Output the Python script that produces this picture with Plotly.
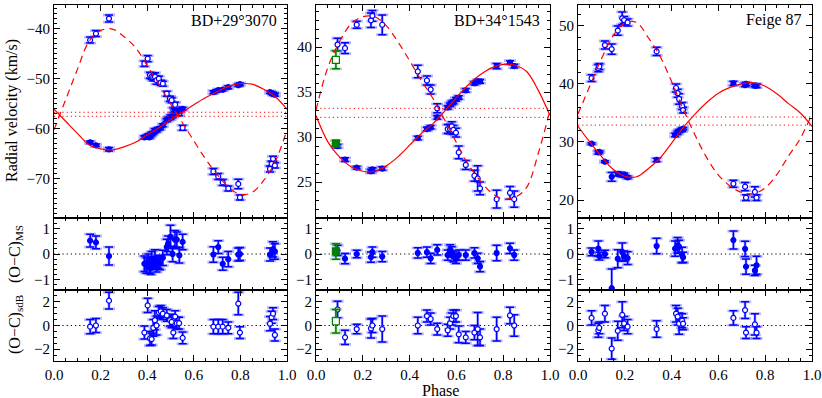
import plotly.graph_objects as go

W, H = 822, 398
FONT = "Liberation Serif, DejaVu Serif, serif"
BLUE = "#0000ff"
HALO = "rgba(90,90,255,0.45)"
GREEN = "#008000"
RED = "#ff0000"

# ---------------- BD+29 3070 ----------------
bd29_sdb_phase = [0.155, 0.180, 0.236, 0.388, 0.402, 0.412, 0.419, 0.426, 0.433, 0.440, 0.450,
                  0.458, 0.467, 0.484, 0.498, 0.505, 0.512, 0.520, 0.527, 0.537, 0.552, 0.684,
                  0.705, 0.724, 0.748, 0.791, 0.798, 0.927, 0.934, 0.940, 0.948]
bd29_sdb_rv = [-42.3, -41.0, -38.0, -47.0, -46.0, -49.3, -49.6, -49.7, -49.6, -50.3, -50.0,
               -50.8, -51.0, -53.0, -54.0, -54.3, -56.3, -55.2, -56.3, -56.9, -59.8, -68.5,
               -69.5, -70.7, -71.9, -71.0, -73.7, -68.0, -67.0, -66.0, -67.3]
bd29_sdb_res = [-0.1, 0.0, 2.1, -0.6, 1.7, -1.1, -1.15, -0.2, 0.45, 0.0, 1.1,
                1.2, 1.0, 0.85, 0.45, 0.3, -0.6, 0.75, 0.2, 0.2, -1.05, -0.1,
                -0.1, -0.1, -0.2, 1.85, -0.6, 0.15, 0.7, 1.0, -0.8]
bd29_sdb_err = [0.6, 0.6, 0.7, 0.55, 0.6, 0.6, 0.5, 0.7, 0.8, 0.8, 0.5,
                0.5, 0.5, 0.5, 0.5, 0.5, 0.5, 0.5, 0.5, 0.5, 0.5, 0.6,
                0.6, 0.6, 0.5, 0.95, 0.5, 0.6, 0.5, 0.5, 0.5]

bd29_ms_phase = [0.155, 0.180, 0.236, 0.388, 0.397, 0.405, 0.410, 0.415, 0.419, 0.426, 0.433,
                 0.440, 0.448, 0.455, 0.467, 0.484, 0.490, 0.500, 0.509, 0.519, 0.527, 0.538,
                 0.552, 0.684, 0.705, 0.724, 0.748, 0.791, 0.798, 0.927, 0.940, 0.948]
bd29_ms_rv = [-62.7, -63.3, -64.1, -61.7, -61.6, -61.3, -61.7, -61.3, -61.0, -60.8, -60.3,
              -60.4, -60.0, -59.9, -59.3, -58.3, -58.0, -57.7, -57.5, -56.3, -56.4, -56.5,
              -56.0, -52.7, -52.3, -52.2, -51.7, -51.3, -51.1, -52.7, -53.0, -53.2]
bd29_ms_res = [0.52, 0.45, -0.08, -0.38, -0.45, -0.3, -0.5, -0.55, -0.2, -0.35, -0.18,
               -0.45, -0.3, -0.36, -0.15, 0.27, 0.4, 0.67, 0.0, 0.56, 0.56, -0.05,
               0.47, -0.02, 0.27, -0.38, -0.2, -0.02, 0.0, -0.02, 0.18, 0.1]
bd29_ms_err = [0.25, 0.25, 0.35, 0.3, 0.3, 0.3, 0.25, 0.25, 0.3, 0.25, 0.35,
               0.25, 0.25, 0.25, 0.3, 0.3, 0.3, 0.45, 0.3, 0.35, 0.3, 0.3,
               0.3, 0.3, 0.25, 0.25, 0.3, 0.25, 0.25, 0.25, 0.3, 0.3]

# fitted orbits, every 0.05 in phase
fit_phase = [0.00, 0.05, 0.10, 0.15, 0.20, 0.25, 0.30, 0.35, 0.40, 0.45, 0.50,
             0.55, 0.60, 0.65, 0.70, 0.75, 0.80, 0.85, 0.90, 0.95, 1.00]
bd29_fit_sdb = [-60.2, -54.2, -48.2, -42.6, -40.4, -40.1, -41.6, -43.8, -47.4, -51.1, -55.0,
                -58.7, -62.4, -66.0, -69.1, -71.7, -73.1, -72.7, -70.3, -66.5, -60.2]
bd29_fit_ms = [-56.1, -58.5, -60.9, -63.2, -64.0, -64.2, -63.6, -62.7, -61.2, -59.8, -58.2,
               -56.7, -55.2, -53.8, -52.6, -51.5, -51.0, -51.1, -52.1, -53.6, -56.1]
bd29_gamma = [-56.7, -57.5]

# ---------------- BD+34 1543 ----------------
bd34_sdb_phase = [0.092, 0.124, 0.174, 0.235, 0.241, 0.283, 0.435, 0.474, 0.490, 0.518, 0.563,
                  0.573, 0.580, 0.587, 0.598, 0.610, 0.640, 0.677, 0.691, 0.701, 0.772, 0.829,
                  0.847]
bd34_sdb_rv = [40.3, 39.9, 42.5, 43.0, 43.5, 42.5, 37.3, 36.3, 35.3, 33.2, 30.9,
               30.9, 31.2, 30.8, 30.5, 28.3, 26.9, 25.7, 25.4, 24.3, 23.1, 23.8,
               23.1]
bd34_sdb_res = [1.35, -1.0, -0.3, -0.25, 0.0, -0.3, 0.0, 0.8, 0.55, -0.3, -0.4,
                0.2, 0.55, 0.8, 0.8, -0.75, -1.0, -0.6, -0.3, -1.0, -0.3, 0.85,
                0.0]
bd34_sdb_err = [0.7, 0.6, 0.4, 0.8, 0.6, 1.1, 0.7, 0.5, 0.5, 0.5, 0.5,
                0.5, 0.5, 0.5, 0.5, 0.7, 0.5, 0.6, 1.4, 0.7, 1.0, 0.7,
                0.9]

bd34_ms_phase = bd34_sdb_phase
bd34_ms_rv = [29.0, 27.5, 26.6, 26.2, 26.4, 26.5, 29.9, 30.9, 31.1, 32.2, 33.3,
              33.6, 33.8, 33.9, 34.2, 34.4, 35.2, 36.0, 36.2, 36.2, 37.9, 38.3,
              37.9]
bd34_ms_res = [0.14, -0.18, 0.0, -0.12, 0.07, -0.1, 0.04, 0.07, -0.17, 0.16, -0.04,
               0.16, 0.08, -0.1, -0.17, -0.04, -0.04, 0.04, -0.17, -0.49, 0.04, 0.22,
               -0.04]
bd34_ms_err = [0.2, 0.2, 0.15, 0.2, 0.2, 0.2, 0.2, 0.2, 0.2, 0.2, 0.2,
               0.2, 0.2, 0.2, 0.2, 0.2, 0.2, 0.2, 0.2, 0.2, 0.3, 0.2,
               0.2]

# extra epoch drawn in green
bd34_green_phase = [0.085]
bd34_green_sdb_rv = [38.6]
bd34_green_sdb_res = [0.36]
bd34_green_sdb_err = [1.0]
bd34_green_ms_rv = [29.3]
bd34_green_ms_res = [0.1]
bd34_green_ms_err = [0.3]

bd34_fit_sdb = [33.0, 37.7, 40.6, 42.6, 43.4, 43.4, 42.4, 40.6, 38.5, 36.3, 34.3,
                31.9, 29.4, 27.0, 25.2, 23.8, 23.1, 23.3, 24.4, 28.2, 33.0]
bd34_fit_ms = [32.4, 29.5, 27.8, 26.7, 26.2, 26.2, 26.8, 27.8, 29.1, 30.4, 31.5,
               32.9, 34.4, 35.8, 36.9, 37.7, 38.1, 38.0, 37.3, 35.2, 32.4]
bd34_gamma = [33.2, 32.2]

# ---------------- Feige 87 ----------------
f87_sdb_phase = [0.058, 0.087, 0.091, 0.115, 0.144, 0.170, 0.189, 0.197, 0.212, 0.336, 0.419,
                 0.426, 0.432, 0.445, 0.449, 0.664, 0.714, 0.718, 0.756, 0.763]
f87_sdb_rv = [41.0, 42.7, 43.0, 46.7, 46.0, 49.2, 51.3, 51.0, 50.6, 45.6, 39.3,
              38.4, 37.4, 36.2, 35.5, 22.8, 22.3, 20.4, 21.4, 20.4]
f87_sdb_res = [0.64, -0.4, -0.2, 1.0, -1.95, -0.45, 0.9, 0.17, -0.1, -0.3, 1.0,
               0.75, 0.15, 0.4, 0.15, 0.64, 1.3, -0.6, 0.1, -0.6]
f87_sdb_err = [0.6, 0.6, 0.5, 0.7, 0.9, 0.8, 1.1, 0.6, 0.6, 0.7, 0.7,
               0.7, 0.9, 0.6, 0.5, 0.6, 0.7, 0.5, 0.9, 0.5]

f87_ms_phase = [0.058, 0.087, 0.091, 0.115, 0.144, 0.170, 0.189, 0.197, 0.212, 0.336, 0.415,
                0.426, 0.432, 0.445, 0.449, 0.664, 0.714, 0.718, 0.756, 0.763]
f87_ms_rv = [29.7, 28.2, 28.3, 26.6, 24.0, 24.5, 24.3, 24.4, 23.9, 26.9, 31.2,
             31.6, 31.9, 32.1, 32.3, 40.1, 39.8, 40.0, 39.7, 39.7]
f87_ms_res = [0.08, 0.21, -0.08, 0.0, -1.33, -0.18, 0.08, -0.08, -0.16, 0.31, 0.21,
              0.34, 0.28, -0.04, -0.13, 0.54, 0.2, -0.49, -0.64, -0.44]
f87_ms_err = [0.15, 0.3, 0.15, 0.15, 0.75, 0.35, 0.35, 0.2, 0.25, 0.3, 0.3,
              0.3, 0.25, 0.3, 0.2, 0.35, 0.3, 0.3, 0.2, 0.35]

f87_fit_sdb = [34.8, 39.6, 44.3, 48.3, 50.5, 50.6, 48.0, 44.8, 40.4, 35.6, 31.2,
               27.3, 24.3, 22.4, 21.3, 21.1, 22.1, 24.4, 27.6, 30.6, 34.8]
f87_fit_ms = [32.7, 30.0, 27.5, 25.3, 24.1, 24.0, 25.4, 27.2, 29.8, 32.5, 34.8,
              36.8, 38.4, 39.4, 40.0, 40.2, 39.6, 38.3, 36.6, 35.0, 32.7]
f87_gamma = [34.3, 32.9]

# ---------------- layout ----------------
col_px = [(54, 287), (316, 550), (578, 812)]
row_px = [(5, 218), (218, 290), (290, 361)]
names = ["BD+29°3070", "BD+34°1543", "Feige 87"]
rv_ranges = [[-77.8, -35.3], [21.0, 44.7], [16.9, 53.6]]
rv_dtick = [10, 5, 10]
rv_minor = [1, 1, 2]
res_ranges = [[-1.4, 1.4], [-3, 3]]
res_dtick = [1, 2]
res_minor = [0.2, 0.5]


def ax_id(col, row):
    return col * 3 + row + 1


def ref(n, axis):
    return axis if n == 1 else f"{axis}{n}"


def add_points(fig, n, phase, vals, err, filled, color=BLUE, symbol="circle", size=5):
    xa, ya = ref(ax_id(*n), "x"), ref(ax_id(*n), "y")
    halo = HALO if color == BLUE else "rgba(80,170,80,0.45)"
    fig.add_trace(go.Scatter(x=phase, y=vals, mode="markers", xaxis=xa, yaxis=ya,
                             marker=dict(size=1, opacity=0),
                             error_y=dict(type="data", array=err, color=halo,
                                          thickness=2.8, width=6),
                             showlegend=False, hoverinfo="skip"))
    fig.add_trace(go.Scatter(x=phase, y=vals, mode="markers", xaxis=xa, yaxis=ya,
                             marker=dict(symbol=symbol, size=size,
                                         color=color if filled else "white",
                                         line=dict(color=color, width=1.2)),
                             error_y=dict(type="data", array=err, color=color,
                                          thickness=1.5, width=4),
                             showlegend=False))


def add_curve(fig, n, vals, dash):
    fig.add_trace(go.Scatter(x=fit_phase, y=vals, mode="lines", line_shape="spline",
                             xaxis=ref(ax_id(*n), "x"), yaxis=ref(ax_id(*n), "y"),
                             line=dict(color=RED, width=1.2, dash=dash),
                             showlegend=False, hoverinfo="skip"))


def add_hline(fig, n, y, color, width=1.0):
    fig.add_trace(go.Scatter(x=[0, 1], y=[y, y], mode="lines",
                             xaxis=ref(ax_id(*n), "x"), yaxis=ref(ax_id(*n), "y"),
                             line=dict(color=color, width=width, dash="1.2px,3px"),
                             showlegend=False, hoverinfo="skip"))


fig = go.Figure()

stars = [
    (bd29_ms_phase, bd29_ms_rv, bd29_ms_res, bd29_ms_err,
     bd29_sdb_phase, bd29_sdb_rv, bd29_sdb_res, bd29_sdb_err,
     bd29_fit_ms, bd29_fit_sdb, bd29_gamma),
    (bd34_ms_phase, bd34_ms_rv, bd34_ms_res, bd34_ms_err,
     bd34_sdb_phase, bd34_sdb_rv, bd34_sdb_res, bd34_sdb_err,
     bd34_fit_ms, bd34_fit_sdb, bd34_gamma),
    (f87_ms_phase, f87_ms_rv, f87_ms_res, f87_ms_err,
     f87_sdb_phase, f87_sdb_rv, f87_sdb_res, f87_sdb_err,
     f87_fit_ms, f87_fit_sdb, f87_gamma),
]

for c, s in enumerate(stars):
    ms_p, ms_v, ms_r, ms_e, sd_p, sd_v, sd_r, sd_e, fit_ms, fit_sd, gam = s
    add_hline(fig, (c, 1), 0, "black")
    add_hline(fig, (c, 2), 0, "black")
    add_points(fig, (c, 0), sd_p, sd_v, sd_e, False)
    add_points(fig, (c, 0), ms_p, ms_v, ms_e, True)
    add_points(fig, (c, 1), ms_p, ms_r, ms_e, True)
    add_points(fig, (c, 2), sd_p, sd_r, sd_e, False)
    if c == 1:
        add_points(fig, (1, 0), bd34_green_phase, bd34_green_sdb_rv, bd34_green_sdb_err,
                   False, GREEN, "square", 7)
        add_points(fig, (1, 0), bd34_green_phase, bd34_green_ms_rv, bd34_green_ms_err,
                   True, GREEN, "square", 7)
        add_points(fig, (1, 1), bd34_green_phase, bd34_green_ms_res, bd34_green_ms_err,
                   True, GREEN, "square", 7)
        add_points(fig, (1, 2), bd34_green_phase, bd34_green_sdb_res, bd34_green_sdb_err,
                   False, GREEN, "square", 7)
    for g in gam:
        add_hline(fig, (c, 0), g, RED)
    add_curve(fig, (c, 0), fit_ms, "solid")
    add_curve(fig, (c, 0), fit_sd, "7px,5px")

tickfont = dict(family=FONT, size=15, color="black")
layout = dict(width=W, height=H, margin=dict(l=0, r=0, t=0, b=0, pad=0, autoexpand=False),
              paper_bgcolor="white", plot_bgcolor="white", showlegend=False,
              font=dict(family=FONT, size=15, color="black"))

for c in range(3):
    for r in range(3):
        n = ax_id(c, r)
        x0, x1 = col_px[c]
        y0, y1 = row_px[r]
        layout[ref(n, "xaxis")] = dict(
            domain=[x0 / W, x1 / W], anchor=ref(n, "y"), range=[0, 1], automargin=False,
            showline=True, mirror="allticks", linecolor="black", linewidth=1,
            ticks="inside", ticklen=6, tickcolor="black", tick0=0, dtick=0.2,
            minor=dict(ticks="inside", ticklen=3, dtick=0.05, tickcolor="black"),
            showticklabels=(r == 2), tickformat=".1f", tickfont=tickfont,
            showgrid=False, zeroline=False)
        if r == 0:
            yr, dt, mn = rv_ranges[c], rv_dtick[c], rv_minor[c]
        else:
            yr, dt, mn = res_ranges[r - 1], res_dtick[r - 1], res_minor[r - 1]
        layout[ref(n, "yaxis")] = dict(
            domain=[1 - y1 / H, 1 - y0 / H], anchor=ref(n, "x"), range=yr, automargin=False,
            showline=True, mirror="allticks", linecolor="black", linewidth=1,
            ticks="inside", ticklen=6, tickcolor="black", dtick=dt, tick0=0,
            minor=dict(ticks="inside", ticklen=3, dtick=mn, tickcolor="black"),
            tickfont=tickfont, showgrid=False, zeroline=False)

fig.update_layout(**layout)

annotations = []
for c in range(3):
    annotations.append(dict(text=names[c], x=(col_px[c][1] - 8) / W, y=1 - 20 / H,
                            xref="paper", yref="paper", xanchor="right", yanchor="middle",
                            showarrow=False, font=dict(family=FONT, size=16)))
annotations.append(dict(text="Radial velocity (km/s)", x=12 / W, y=1 - 111 / H,
                        xref="paper", yref="paper", textangle=-90, showarrow=False,
                        xanchor="center", yanchor="middle", font=dict(family=FONT, size=16)))
annotations.append(dict(text="(O−C)<sub>MS</sub>", x=15 / W, y=1 - 254 / H,
                        xref="paper", yref="paper", textangle=-90, showarrow=False,
                        xanchor="center", yanchor="middle", font=dict(family=FONT, size=16)))
annotations.append(dict(text="(O−C)<sub>sdB</sub>", x=15 / W, y=1 - 325 / H,
                        xref="paper", yref="paper", textangle=-90, showarrow=False,
                        xanchor="center", yanchor="middle", font=dict(family=FONT, size=16)))
annotations.append(dict(text="Phase", x=441 / W, y=1 - 390 / H,
                        xref="paper", yref="paper", showarrow=False,
                        xanchor="center", yanchor="middle", font=dict(family=FONT, size=16)))
fig.update_layout(annotations=annotations)

# the page body has a default 8px margin; drop it so the figure sits at the corner
fig.write_html("out.html", config={"displayModeBar": False},
               post_script="document.body.style.margin = '0';")
